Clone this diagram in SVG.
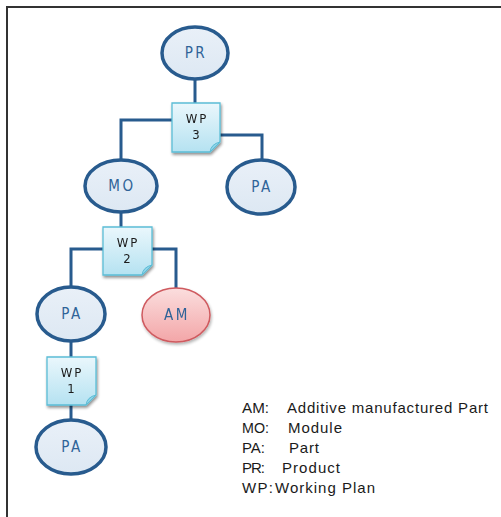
<svg xmlns="http://www.w3.org/2000/svg" width="501" height="517" viewBox="0 0 501 517">
<defs>
<linearGradient id="gE" x1="0" y1="0" x2="0" y2="1"><stop offset="0" stop-color="#e9f0f8"/><stop offset="1" stop-color="#dde8f3"/></linearGradient>
<linearGradient id="gA" x1="0" y1="0" x2="0" y2="1"><stop offset="0" stop-color="#fbdede"/><stop offset="1" stop-color="#f3a6a8"/></linearGradient>
<linearGradient id="gW" x1="0" y1="0" x2="0" y2="1"><stop offset="0" stop-color="#eaf7fc"/><stop offset="1" stop-color="#b5e2f1"/></linearGradient>
<filter id="sh" x="-20%" y="-20%" width="150%" height="150%"><feGaussianBlur in="SourceAlpha" stdDeviation="1.5"/><feOffset dx="1" dy="2"/><feComponentTransfer><feFuncA type="linear" slope="0.45"/></feComponentTransfer><feMerge><feMergeNode/><feMergeNode in="SourceGraphic"/></feMerge></filter>
<filter id="sh2" x="-20%" y="-20%" width="150%" height="150%"><feGaussianBlur in="SourceAlpha" stdDeviation="1.5"/><feOffset dx="1" dy="2"/><feComponentTransfer><feFuncA type="linear" slope="0.3"/></feComponentTransfer><feMerge><feMergeNode/><feMergeNode in="SourceGraphic"/></feMerge></filter>
</defs>
<style>
.e{fill:url(#gE);stroke:#285b8e;stroke-width:3.5}
.am{fill:url(#gA);stroke:#cf5a5f;stroke-width:1.5}
.w{fill:url(#gW);stroke:#5bbdd6;stroke-width:1.3}
.fold{fill:#8fd3e8;stroke:#5bbdd6;stroke-width:1}
.c{fill:none;stroke:#285b8e;stroke-width:3}
.lbl{font-family:"DejaVu Sans Condensed","DejaVu Sans",sans-serif;font-size:15px;font-weight:normal;fill:#2f6398;letter-spacing:2.5px;text-anchor:middle}
.wt{font-family:"DejaVu Sans Condensed","DejaVu Sans",sans-serif;font-size:13px;fill:#1a1a1a;letter-spacing:2px;text-anchor:middle}
.lg{font-family:"Liberation Sans",Arial,sans-serif;font-size:15px;fill:#1a1a1a}
</style>
<rect width="501" height="517" fill="#fff"/>
<path d="M7,517 V7 H501" fill="none" stroke="#333" stroke-width="2"/>
<g id="connectors">
<path class="c" d="M195,80 V104"/>
<path class="c" d="M172,120 H121 V160"/>
<path class="c" d="M220,135 H262 V160"/>
<path class="c" d="M121,212 V228"/>
<path class="c" d="M103,249 H71 V287"/>
<path class="c" d="M152,249 H176 V288"/>
<path class="c" d="M71,342 V357"/>
<path class="c" d="M71,405 V420"/>
</g>
<g id="PR"><ellipse class="e" cx="195" cy="53" rx="33" ry="26"/><text class="lbl" x="196" y="58">PR</text></g>
<g id="WP3" filter="url(#sh)"><path class="w" d="M172,103 H220 V142 L210,152 H172 Z"/><path class="fold" d="M220,142 L210,152 Q211,144 220,142 Z"/><text class="wt" x="197" y="123">WP</text><text class="wt" x="197" y="139">3</text></g>
<g id="MO"><ellipse class="e" cx="121" cy="186" rx="36" ry="26"/><text class="lbl" x="122" y="191">MO</text></g>
<g id="PA1"><ellipse class="e" cx="261" cy="187" rx="34" ry="27"/><text class="lbl" x="262" y="192">PA</text></g>
<g id="WP2" filter="url(#sh)"><path class="w" d="M103,227 H152 V265 L142,275 H103 Z"/><path class="fold" d="M152,265 L142,275 Q143,267 152,265 Z"/><text class="wt" x="128" y="247">WP</text><text class="wt" x="128" y="263">2</text></g>
<g id="PA2"><ellipse class="e" cx="71" cy="314" rx="34" ry="27"/><text class="lbl" x="72" y="319">PA</text></g>
<g id="AM" filter="url(#sh2)"><ellipse class="am" cx="176" cy="315" rx="34" ry="27"/><text class="lbl" x="177" y="320">AM</text></g>
<g id="WP1" filter="url(#sh)"><path class="w" d="M47,357 H96 V395 L86,405 H47 Z"/><path class="fold" d="M96,395 L86,405 Q87,397 96,395 Z"/><text class="wt" x="72" y="377">WP</text><text class="wt" x="72" y="393">1</text></g>
<g id="PA3"><ellipse class="e" cx="71" cy="447" rx="35" ry="27"/><text class="lbl" x="72" y="452">PA</text></g>
<g id="legend">
<text class="lg" x="242" y="413" textLength="27" lengthAdjust="spacingAndGlyphs">AM:</text>
<text class="lg" x="287" y="413" textLength="201" lengthAdjust="spacing">Additive manufactured Part</text>
<text class="lg" x="242" y="433" textLength="27" lengthAdjust="spacingAndGlyphs">MO:</text>
<text class="lg" x="288" y="433" textLength="54" lengthAdjust="spacing">Module</text>
<text class="lg" x="242" y="453" textLength="23" lengthAdjust="spacing">PA:</text>
<text class="lg" x="289" y="453" textLength="30" lengthAdjust="spacing">Part</text>
<text class="lg" x="242" y="473" textLength="23" lengthAdjust="spacing">PR:</text>
<text class="lg" x="282" y="473" textLength="58" lengthAdjust="spacing">Product</text>
<text class="lg" x="242" y="493" textLength="31" lengthAdjust="spacing">WP:</text>
<text class="lg" x="275" y="493" textLength="100" lengthAdjust="spacing">Working Plan</text>
</g>
</svg>
